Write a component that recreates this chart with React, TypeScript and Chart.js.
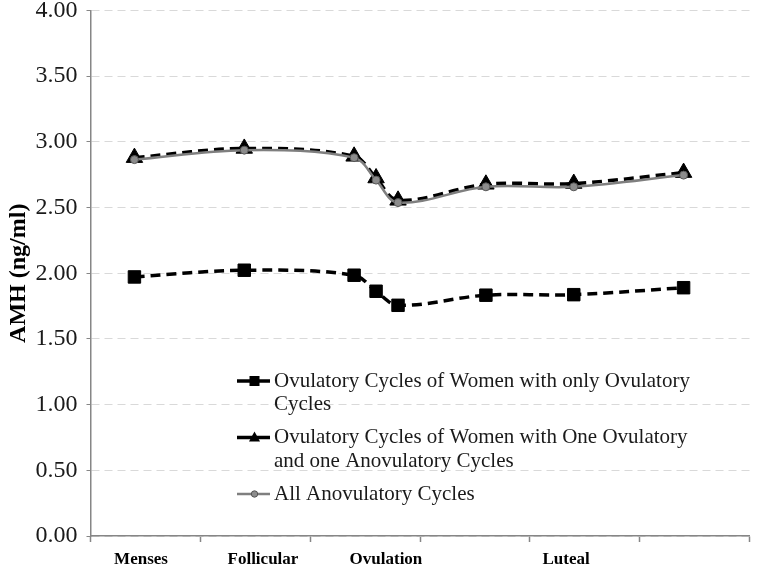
import React, { useEffect, useRef } from "react";
import { Chart, registerables } from "chart.js";

Chart.register(...registerables);

// ---- data ----
const CYCLE_POS = [0.4, 1.4, 2.4, 2.6, 2.8, 3.6, 4.4, 5.4];
const OVULATORY_ONLY = [1.972, 2.023, 1.985, 1.863, 1.756, 1.833, 1.837, 1.89];
const OVULATORY_MIXED = [2.88, 2.95, 2.89, 2.725, 2.555, 2.677, 2.683, 2.766];
const ALL_ANOVULATORY = [2.865, 2.937, 2.88, 2.709, 2.538, 2.658, 2.658, 2.747];
const SERIES_LABELS = [
  "Ovulatory Cycles of Women with only Ovulatory Cycles",
  "Ovulatory Cycles of Women with One Ovulatory and one Anovulatory Cycles",
  "All Anovulatory Cycles",
];
const PHASE_LABELS = ["Menses", "Follicular", "Ovulation", "Luteal"];
const PHASE_POS = [0.46, 1.57, 2.69, 4.33];
const X_DIVISIONS = [0, 1, 2, 3, 4, 5, 6];
const Y_MIN = 0;
const Y_MAX = 4;
const Y_STEP = 0.5;
const Y_TITLE = "AMH (ng/ml)";

const FONT = '"Liberation Serif", "Times New Roman", serif';
const AXIS_GRAY = "#868686";

const toPoints = (ys: number[]) => CYCLE_POS.map((x, i) => ({ x, y: ys[i] }));

function wrapText(ctx: CanvasRenderingContext2D, text: string, maxW: number): string[] {
  const words = text.split(" ");
  const lines: string[] = [];
  let cur = "";
  for (const w of words) {
    const test = cur ? cur + " " + w : w;
    if (ctx.measureText(test).width > maxW && cur) {
      lines.push(cur);
      cur = w;
    } else cur = test;
  }
  if (cur) lines.push(cur);
  return lines;
}

const legendPlugin = {
  id: "wrappedLegend",
  afterDraw(chart: any) {
    const ctx: CanvasRenderingContext2D = chart.ctx;
    const LX = 237;
    const LW = 33;
    const TX = 274;
    const LINE_H = 23.5;
    const GAP = 9.5;
    let y = 381;
    ctx.save();
    ctx.font = `21px ${FONT}`;
    ctx.textBaseline = "middle";
    ctx.textAlign = "left";
    chart.data.datasets.forEach((ds: any, i: number) => {
      const lines = wrapText(ctx, ds.label, 430);
      ctx.save();
      ctx.strokeStyle = ds.borderColor;
      ctx.lineWidth = i === 2 ? 2.5 : 3.5;
      ctx.setLineDash([]);
      ctx.beginPath();
      ctx.moveTo(LX, y);
      ctx.lineTo(LX + LW, y);
      ctx.stroke();
      const cx = LX + LW / 2 + 1;
      if (ds.pointStyle === "rect") {
        ctx.fillStyle = "#000";
        ctx.fillRect(cx - 5, y - 5, 10, 10);
      } else if (ds.pointStyle === "triangle") {
        ctx.fillStyle = "#000";
        ctx.beginPath();
        ctx.moveTo(cx, y - 6);
        ctx.lineTo(cx + 5.5, y + 4);
        ctx.lineTo(cx - 5.5, y + 4);
        ctx.closePath();
        ctx.fill();
      } else {
        ctx.fillStyle = ds.pointBackgroundColor;
        ctx.strokeStyle = ds.pointBorderColor;
        ctx.lineWidth = 1;
        ctx.beginPath();
        ctx.arc(cx, y, 3.2, 0, Math.PI * 2);
        ctx.fill();
        ctx.stroke();
      }
      ctx.restore();
      ctx.fillStyle = "#1a1a1a";
      lines.forEach((ln, j) => ctx.fillText(ln, TX, y + j * LINE_H));
      y += lines.length * LINE_H + GAP;
    });
    ctx.restore();
  },
};

export default function App() {
  const ref = useRef<HTMLCanvasElement | null>(null);

  useEffect(() => {
    document.body.style.margin = "0";
    const canvas = ref.current;
    if (!canvas) return;
    const chart = new Chart(canvas, {
      type: "line",
      data: {
        datasets: [
          {
            label: SERIES_LABELS[0],
            data: toPoints(OVULATORY_ONLY),
            borderColor: "#000",
            borderWidth: 3.5,
            borderDash: [10, 6],
            tension: 0.35,
            pointStyle: "rect",
            pointRadius: 8.8,
            pointBackgroundColor: "#000",
            pointBorderColor: "#000",
            pointBorderWidth: 1,
            order: 2,
          },
          {
            label: SERIES_LABELS[1],
            data: toPoints(OVULATORY_MIXED),
            borderColor: "#000",
            borderWidth: 3.5,
            borderDash: [10, 6],
            tension: 0.35,
            pointStyle: "triangle",
            pointRadius: 9.5,
            pointBackgroundColor: "#000",
            pointBorderColor: "#000",
            pointBorderWidth: 1,
            order: 1,
          },
          {
            label: SERIES_LABELS[2],
            data: toPoints(ALL_ANOVULATORY),
            borderColor: "#7f7f7f",
            borderWidth: 2.5,
            tension: 0.35,
            pointStyle: "circle",
            pointRadius: 4,
            pointBackgroundColor: "#8c8c8c",
            pointBorderColor: "#555",
            pointBorderWidth: 1,
            order: 0,
          },
        ],
      },
      options: {
        animation: false,
        responsive: false,
        devicePixelRatio: 1,
        layout: { padding: { top: 8, right: 3, left: 0, bottom: 0 } },
        plugins: {
          legend: { display: false },
          tooltip: { enabled: false },
        },
        font: { family: FONT },
        scales: {
          x: {
            type: "linear",
            min: X_DIVISIONS[0],
            max: X_DIVISIONS[X_DIVISIONS.length - 1],
            afterBuildTicks: (scale: any) => {
              const vals = [...X_DIVISIONS, ...PHASE_POS].sort((a, b) => a - b);
              scale.ticks = vals.map((v) => ({ value: v }));
            },
            afterFit: (scale: any) => {
              scale.height = 29;
              scale.paddingLeft = 0;
              scale.paddingRight = 0;
            },
            ticks: {
              autoSkip: false,
              maxRotation: 0,
              minRotation: 0,
              padding: 7,
              color: "#000",
              font: { family: FONT, size: 17, weight: "bold" },
              callback: (v: any) => {
                const idx = PHASE_POS.indexOf(Number(v));
                return idx >= 0 ? PHASE_LABELS[idx] : "";
              },
            },
            grid: {
              drawOnChartArea: false,
              drawTicks: true,
              tickLength: 6,
              tickWidth: 1.5,
              tickColor: (c: any) =>
                c.tick && PHASE_POS.includes(c.tick.value) ? "rgba(0,0,0,0)" : AXIS_GRAY,
            },
            border: { display: true, color: AXIS_GRAY, width: 1.5 },
          },
          y: {
            type: "linear",
            min: Y_MIN,
            max: Y_MAX,
            afterFit: (scale: any) => {
              scale.width = 90.5;
              scale.paddingTop = 0;
              scale.paddingBottom = 0;
            },
            ticks: {
              stepSize: Y_STEP,
              padding: 9,
              color: "#1a1a1a",
              font: { family: FONT, size: 24 },
              callback: (v: any) => Number(v).toFixed(2),
            },
            title: {
              display: true,
              text: Y_TITLE,
              color: "#000",
              font: { family: FONT, size: 24, weight: "bold" },
              padding: { top: 4, bottom: 0 },
            },
            grid: {
              color: "#d9d9d9",
              lineWidth: 1,
              drawTicks: true,
              tickLength: 4,
              tickColor: AXIS_GRAY,
              tickBorderDash: [],
            },
            border: { display: true, color: AXIS_GRAY, width: 1.5, dash: [8, 5] },
          },
        },
      } as any,
      plugins: [legendPlugin],
    });
    return () => chart.destroy();
  }, []);

  return (
    <div style={{ width: 760, height: 565 }}>
      <canvas ref={ref} width={760} height={565} />
    </div>
  );
}
